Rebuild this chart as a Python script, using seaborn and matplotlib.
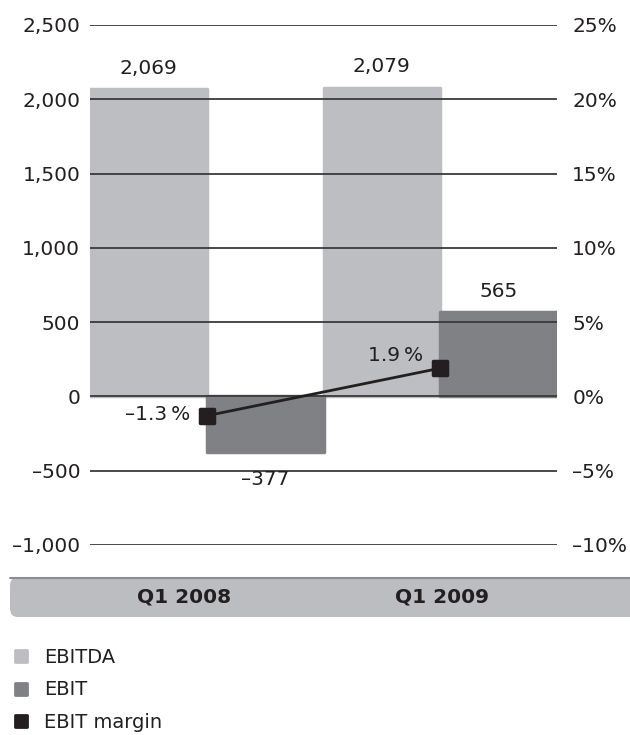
import numpy as np
import pandas as pd
import matplotlib
matplotlib.use("Agg")
import matplotlib.pyplot as plt
import seaborn as sns
from matplotlib.patches import FancyBboxPatch
from matplotlib.lines import Line2D
from matplotlib.markers import MarkerStyle
from matplotlib.container import BarContainer
from matplotlib.ticker import FuncFormatter

# ---- data ----
quarters = ["Q1 2008", "Q1 2009"]
ebitda = [2069, 2079]
ebit = [-377, 565]
ebit_margin = [-1.3, 1.9]
series_names = ["EBITDA", "EBIT", "EBIT margin"]
left_ticks = [-1000, -500, 0, 500, 1000, 1500, 2000, 2500]
right_ticks = [-10, -5, 0, 5, 10, 15, 20, 25]

# ---- style ----
sns.set_theme(style="white")
plt.rcParams['font.family'] = ['DejaVu Sans']
TXT = "#231f20"
C_EBITDA = "#bdbec1"
C_EBIT = "#808184"
C_LINE = "#231f20"
GRID = "#3a3a3a"
FS = 14.5
DASH = "\u2013"

df = pd.DataFrame({
    "quarter": quarters * 2,
    "metric": [series_names[0]] * len(quarters) + [series_names[1]] * len(quarters),
    "value": ebitda + ebit,
})

fig = plt.figure(figsize=(6.3, 7.35), dpi=100)

# category band (drawn beneath axes)
band = FancyBboxPatch((10 / 630, (735 - 617) / 735), 640 / 630, 40 / 735,
                      boxstyle="round,pad=0,rounding_size=0.012",
                      transform=fig.transFigure, facecolor="#bcbdc0",
                      edgecolor="none", zorder=-2)
fig.patches.append(band)
fig.add_artist(Line2D([10 / 630, 1], [(735 - 577.5) / 735] * 2,
                      transform=fig.transFigure, color="#8c8d90", lw=1.5,
                      zorder=-1))

ax = fig.add_axes([90 / 630, (735 - 545) / 735, (557 - 90) / 630, 520 / 735])
ax.patch.set_alpha(0)

sns.barplot(data=df, x="quarter", y="value", hue="metric",
            palette=[C_EBITDA, C_EBIT], width=1.0, dodge=True,
            saturation=1, legend=False, ax=ax, zorder=1)

for cont in ax.containers:
    for p in cont.patches:
        p.set_edgecolor(p.get_facecolor())
        p.set_linewidth(2.5)
        p.set_joinstyle("round")

ax.set_xlim(-0.5, len(quarters) - 0.5)
ax.set_ylim(left_ticks[0], left_ticks[-1])
ax.set_yticks(left_ticks)
ax.yaxis.set_major_formatter(FuncFormatter(
    lambda v, p: f"{int(v):,}".replace("-", DASH)))
ax.yaxis.grid(True, color=GRID, linewidth=1.3)
ax.xaxis.grid(False)
ax.set_axisbelow(False)
for s in ax.spines.values():
    s.set_visible(False)
ax.set_xlabel("")
ax.set_ylabel("")
ax.tick_params(axis="y", length=0, pad=7, labelsize=FS, labelcolor=TXT)

# value labels (per bar so that positive/negative padding can differ)
fmt = lambda v: f"{v:,}".replace("-", DASH)
for cont, vals in zip(list(ax.containers), [ebitda, ebit]):
    for p, v in zip(cont.patches, vals):
        bc = BarContainer([p], datavalues=[v], orientation="vertical")
        ax.bar_label(bc, labels=[fmt(v)], padding=(13 if v < 0 else 8),
                     fontsize=FS, color=TXT)

# right axis with margin line
ax2 = ax.twinx()
ax2.set_ylim(right_ticks[0], right_ticks[-1])
ax2.set_yticks(right_ticks)
ax2.yaxis.set_major_formatter(FuncFormatter(
    lambda v, p: f"{int(v)}%".replace("-", DASH)))
for s in ax2.spines.values():
    s.set_visible(False)
ax2.grid(False)
ax2.tick_params(axis="y", length=0, pad=11, labelsize=FS, labelcolor=TXT)
xpos = np.arange(len(quarters))
sns.lineplot(x=xpos, y=ebit_margin, ax=ax2, color=C_LINE, linewidth=2,
             marker=MarkerStyle("s", joinstyle="round"), markersize=9.5,
             markeredgewidth=2.5, markeredgecolor=C_LINE,
             markerfacecolor=C_LINE, legend=False)
ax2.set_ylabel("")

# category labels on the band
ax.set_xticks(xpos)
ax.set_xticklabels([])
ax.set_xlim(-0.5, len(quarters) - 0.5)
ax.tick_params(axis="x", length=0)
cat_dx = [-16, 1]
for x, q, dx in zip(xpos, quarters, cat_dx):
    ax.annotate(q, (x, 0), xycoords=("data", "axes fraction"),
                xytext=(dx, -37.5), textcoords="offset points",
                ha="center", va="center", fontsize=FS, fontweight="bold",
                color=TXT)

m_offsets = [(-12, 1), (-12, 9)]
for x, v, off in zip(xpos, ebit_margin, m_offsets):
    ax2.annotate(f"{v:.1f}\u2009%".replace("-", DASH), (x, v),
                 xytext=off, textcoords="offset points",
                 ha="right", va="center",
                 fontsize=FS, color=TXT)

# legend
handles = [Line2D([], [], ls="", marker=MarkerStyle("s", joinstyle="round"),
                  ms=8.5, mew=2, mfc=c, mec=c)
           for c in [C_EBITDA, C_EBIT, C_LINE]]
fig.legend(handles, series_names, loc="upper left",
           bbox_to_anchor=(0.006, (735 - 640) / 735), frameon=False,
           fontsize=14, labelspacing=0.7, handlelength=1.0,
           handletextpad=0.65, borderaxespad=0, labelcolor=TXT)

fig.savefig("out.png", dpi=100)
